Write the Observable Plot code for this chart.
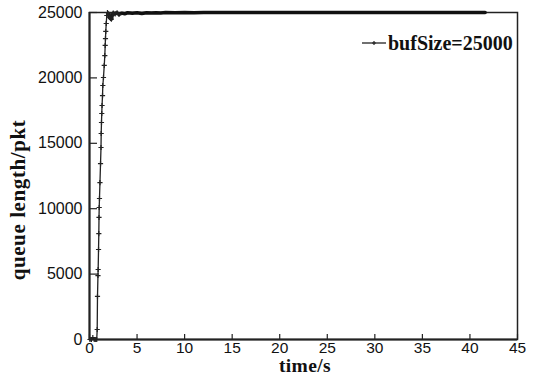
<!DOCTYPE html>
<html>
<head>
<meta charset="utf-8">
<script src="https://cdn.jsdelivr.net/npm/d3@7"></script>
<script src="https://cdn.jsdelivr.net/npm/@observablehq/plot@0.6"></script>
<style>
  html, body { margin: 0; padding: 0; background: #fff; }
  #chart { width: 538px; height: 377px; }
</style>
</head>
<body>
<div id="chart"></div>
<script>
// ---- data ----
const seriesName = "bufSize=25000";
// rising phase (time in s, queue length in pkt)
const riseTime = [0.05, 0.2, 0.35, 0.5, 0.65, 0.76, 0.81, 0.84, 0.89, 0.91, 0.95, 0.98, 1.0, 1.02, 1.05, 1.10, 1.16, 1.21, 1.23, 1.26, 1.29, 1.32, 1.37, 1.40, 1.47, 1.55, 1.61, 1.65, 1.68, 1.71, 1.76, 1.82, 1.89];
const riseQueue = [0, 0, 150, 0, 0, 0, 765, 3290, 4890, 5350, 6880, 8100, 9330, 10090, 10780, 12000, 13450, 14680, 15750, 16590, 17280, 17890, 18650, 19420, 20030, 20950, 21710, 22480, 23010, 23550, 24160, 24770, 25000];
// settling / saturated phase
const flatTime = [2.0, 2.1, 2.2, 2.3, 2.4, 2.5, 2.7, 2.9, 3.1, 3.4, 3.7, 4.0, 4.5, 5.0, 5.5, 6.0, 6.5, 7.0, 7.5, 8.0, 9.0, 10.0, 11.0, 12.0, 13.0, 14.0, 15.0, 16.0, 17.0, 18.0, 19.0, 20.0, 21.0, 22.0, 23.0, 24.0, 25.0, 26.0, 27.0, 28.0, 29.0, 30.0, 31.0, 32.0, 33.0, 34.0, 35.0, 36.0, 37.0, 38.0, 39.0, 40.0, 41.0, 41.6];
const flatQueue = [24900, 24650, 24550, 24500, 24800, 24950, 24900, 24980, 24850, 24950, 24900, 24980, 24950, 24980, 24920, 24980, 24960, 24990, 24970, 25000, 24990, 25000, 24990, 25000, 25000, 25000, 25000, 25000, 25000, 25000, 25000, 25000, 25000, 25000, 25000, 25000, 25000, 25000, 25000, 25000, 25000, 25000, 25000, 25000, 25000, 25000, 25000, 25000, 25000, 25000, 25000, 25000, 25000, 25000];
const xTicks = [0, 5, 10, 15, 20, 25, 30, 35, 40, 45];
const yTicks = [0, 5000, 10000, 15000, 20000, 25000];
const xLabel = "time/s";
const yLabel = "queue length/pkt";

const rise = riseTime.map((t, i) => ({t, q: riseQueue[i]}));
const flat = flatTime.map((t, i) => ({t, q: flatQueue[i]}));
const early = flat.filter(d => d.t <= 3.2);

const W = 538, H = 377;
const M = {left: 89, right: 21, top: 12, bottom: 38};

const plot = Plot.plot({
  width: W, height: H,
  marginLeft: M.left, marginRight: M.right, marginTop: M.top, marginBottom: M.bottom,
  style: {fontFamily: "'Liberation Sans', Arial, sans-serif", fontSize: "16px", color: "#111", background: "#fff"},
  x: {domain: [0, 45], ticks: xTicks, label: null},
  y: {domain: [0, 25000], ticks: yTicks, label: null},
  marks: [
    Plot.frame({stroke: "#222", strokeWidth: 1.5}),
    Plot.axisX({ticks: xTicks, tickSize: -5, tickPadding: 7, fontSize: 15.5, tickFormat: d => String(d), label: null, stroke: "#222", strokeWidth: 1.2}),
    Plot.axisY({ticks: yTicks, tickSize: -8, tickPadding: 15, tickFormat: d => String(d), label: null, stroke: "#222", strokeWidth: 1.2}),
    Plot.ruleX([0], {stroke: "#222", strokeWidth: 2}),
    Plot.ruleY([0], {stroke: "#222", strokeWidth: 2}),
    Plot.line(rise.concat([flat[0]]), {x: "t", y: "q", stroke: "#222", strokeWidth: 1.3}),
    Plot.line(flat, {x: "t", y: "q", stroke: "#111", strokeWidth: 3.5}),
    Plot.dot(rise.concat(early), {x: "t", y: "q", symbol: "plus", r: 1.8, stroke: "#222", strokeWidth: 1.2})
  ]
});

document.getElementById("chart").appendChild(plot);

const svg = d3.select(plot);
const serif = "'Liberation Serif', 'Times New Roman', serif";
// axis titles
svg.append("text")
  .attr("x", 305)
  .attr("y", 372)
  .attr("text-anchor", "middle")
  .attr("font-family", serif).attr("font-weight", "bold").attr("font-size", 19.5)
  .attr("letter-spacing", "0.4px")
  .attr("fill", "#111")
  .text(xLabel);
svg.append("text")
  .attr("transform", `translate(25, 200) rotate(-90)`)
  .attr("text-anchor", "middle")
  .attr("font-family", serif).attr("font-weight", "bold").attr("font-size", 21)
  .attr("letter-spacing", "0.6px")
  .attr("fill", "#111")
  .text(yLabel);
// legend
const lg = svg.append("g").attr("transform", "translate(362, 43)");
lg.append("line").attr("x1", 0).attr("x2", 24).attr("y1", 0).attr("y2", 0).attr("stroke", "#222").attr("stroke-width", 1.3);
lg.append("path").attr("d", "M12,-2V2M10,0H14").attr("stroke", "#222").attr("stroke-width", 1.2);
lg.append("text").attr("x", 26).attr("y", 6.5)
  .attr("text-anchor", "start")
  .attr("font-family", serif).attr("font-weight", "bold").attr("font-size", 20)
  .attr("fill", "#111")
  .text(seriesName);
</script>
</body>
</html>
